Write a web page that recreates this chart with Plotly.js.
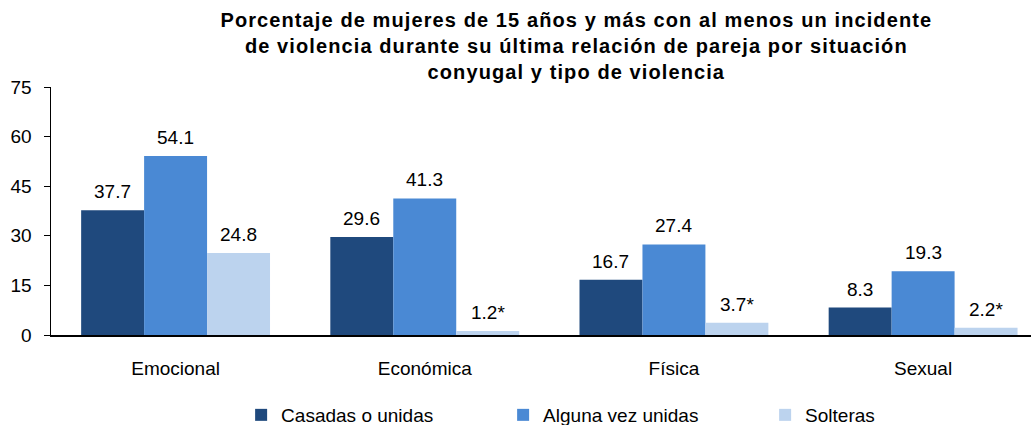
<!DOCTYPE html>
<html>
<head>
<meta charset="utf-8">
<script src="https://cdn.plot.ly/plotly-3.0.1.min.js"></script>
<style>
  html, body { margin: 0; padding: 0; background: #fff; }
  #chart { width: 1031px; height: 425px; }
  /* the source title is set with loose letter spacing */
  #chart .gtitle { letter-spacing: 1.1px; }
</style>
</head>
<body>
<div id="chart"></div>
<script>
// Violencia en la última relación de pareja, por situación conyugal
const categories = ["Emocional", "Económica", "Física", "Sexual"];
const seriesNames = ["Casadas o unidas", "Alguna vez unidas", "Solteras"];
const casadas = [37.7, 29.6, 16.7, 8.3];
const algunaVez = [54.1, 41.3, 27.4, 19.3];
const solteras = [24.8, 1.2, 3.7, 2.2];
// marked with * in the source (low precision estimates)
const solterasFlag = [false, true, true, true];
const yTicks = [0, 15, 30, 45, 60, 75];

const colors = ["#1F497D", "#4A89D4", "#BCD3EE"];
const font = "Liberation Sans, Arial, sans-serif";
const bargap = 0.242;

const series = [casadas, algunaVez, solteras];
const flags = [categories.map(() => false), categories.map(() => false), solterasFlag];

const traces = series.map((vals, k) => ({
  type: "bar",
  name: seriesNames[k],
  x: categories,
  y: vals,
  marker: { color: colors[k] },
  hoverinfo: "x+y+name"
}));

// value labels sit a bit higher above the bars than plotly's outside text
const barW = (1 - bargap) / series.length;
const annotations = [];
series.forEach((vals, k) => {
  vals.forEach((v, i) => {
    annotations.push({
      xref: "x", yref: "y",
      x: i + (k - 1) * barW,
      y: v,
      text: v.toFixed(1) + (flags[k][i] ? "*" : ""),
      showarrow: false,
      yanchor: "bottom",
      yshift: 6,
      font: { family: font, size: 19, color: "#000" }
    });
  });
});

const layout = {
  width: 1031,
  height: 425,
  margin: { l: 51, r: 0, t: 87, b: 90, autoexpand: false },
  paper_bgcolor: "#fff",
  plot_bgcolor: "#fff",
  font: { family: font, size: 19, color: "#000" },
  title: {
    text: "<b>Porcentaje de mujeres de 15 años y más con al menos un incidente<br>de violencia durante su última relación de pareja por situación<br>conyugal y tipo de violencia</b>",
    font: { family: font, size: 20, color: "#000" },
    x: 0.559, xanchor: "center",
    y: 0.936, yanchor: "top", yref: "container"
  },
  barmode: "group",
  bargap: bargap,
  bargroupgap: 0,
  xaxis: {
    type: "category",
    range: [-0.5, 3.433],
    showline: true, linecolor: "#000", linewidth: 1.5,
    ticks: "", showgrid: false, zeroline: false,
    ticklabelstandoff: 16,
    tickfont: { family: font, size: 19, color: "#000" }
  },
  yaxis: {
    range: [0, 75],
    tickvals: yTicks,
    showline: true, linecolor: "#000", linewidth: 1.5,
    ticks: "outside", ticklen: 6, tickcolor: "#000", tickwidth: 1,
    showgrid: false, zeroline: false,
    ticklabelstandoff: 8,
    tickfont: { family: font, size: 19, color: "#000" }
  },
  showlegend: true,
  legend: {
    orientation: "h",
    x: 0.194, xanchor: "left",
    y: -0.3226, yanchor: "middle",
    entrywidth: 217, entrywidthmode: "pixels",
    font: { family: font, size: 19, color: "#000" },
    itemclick: false
  },
  annotations: annotations
};

Plotly.newPlot("chart", traces, layout, { displayModeBar: false, staticPlot: true });
</script>
</body>
</html>
